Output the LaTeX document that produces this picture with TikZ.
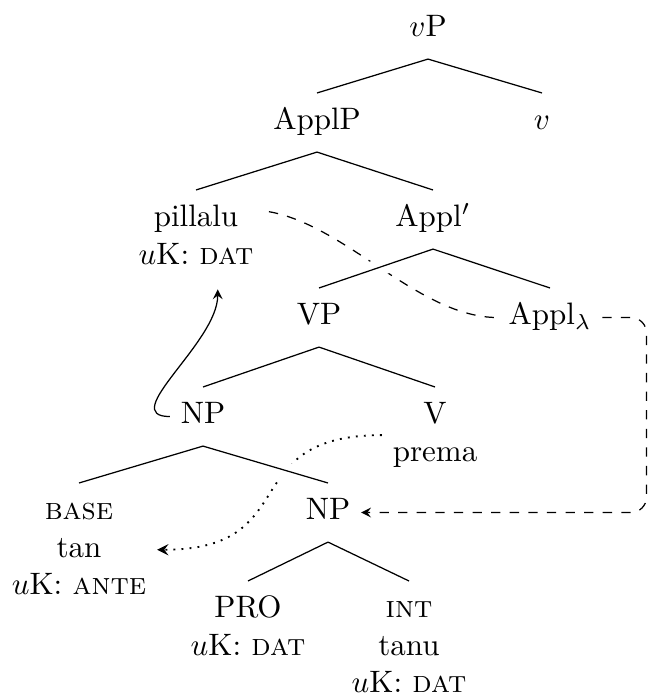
\documentclass[tikz,border=0pt]{standalone}
\usepackage{tikz}
\usetikzlibrary{arrows}
\tikzstyle{tnode} = [anchor=north, align=center]
\tikzstyle{arrow} = [->,>=stealth]
\tikzstyle{halo} = [white, line width=5.5pt]

\begin{document}
\begin{tikzpicture}[x=0.3226pt, y=0.3226pt]
\useasboundingbox (0,0) rectangle (648,698);

\node(vP)[tnode] at (428,698){$v$P\strut};
\node(applP)[tnode] at (317,605){ApplP\strut};
\node(vHead)[tnode] at (542,605){$v$\strut};
\node(pillalu)[tnode] at (196,508){pillalu\strut\\$u$K: \textsc{dat}\strut};
\node(applBar)[tnode] at (433,508){Appl$'$\strut};
\node(verbP)[tnode] at (319,410){VP\strut};
\node(applLam)[tnode] at (550,410){Appl$_\lambda$\strut};
\node(npTop)[tnode] at (203,311){NP\strut};
\node(verb)[tnode] at (435,311){V\strut\\prema\strut};
\node(base)[tnode] at (79,215){\textsc{base}\strut\\tan\strut\\$u$K: \textsc{ante}\strut};
\node(npLow)[tnode] at (328,215){NP\strut};
\node(pro)[tnode] at (248,117){PRO\strut\\$u$K: \textsc{dat}\strut};
\node(int)[tnode] at (409,117){\textsc{int}\strut\\tanu\strut\\$u$K: \textsc{dat}\strut};
\coordinate(rightEdge) at (646.5,280);

% movement arrows
\draw[arrow](npTop.west) to[out=180, in=-90] ([xshift=7pt, yshift=-1pt]pillalu.south);
\draw[dashed]([xshift=1.5pt, yshift=-7pt]pillalu.north east) to[out=-10, in=180, looseness=0.8] (applLam.west);
\draw[arrow, dashed, rounded corners=5pt](applLam.east) -| (rightEdge) |- (npLow.east);
\draw[arrow, dotted, line width=0.6pt](verb.west) to[out=180, in=0, looseness=1.5] (base.east);

% tree edges, white first so the arrows break under them
\foreach \mother/\daughter in {vP/applP, vP/vHead, applP/pillalu, applP/applBar, applBar/verbP, applBar/applLam, verbP/npTop, verbP/verb, npTop/base, npTop/npLow, npLow/pro, npLow/int}
  \draw[halo](\mother.south) -- (\daughter.north);
\foreach \mother/\daughter in {vP/applP, vP/vHead, applP/pillalu, applP/applBar, applBar/verbP, applBar/applLam, verbP/npTop, verbP/verb, npTop/base, npTop/npLow, npLow/pro, npLow/int}
  \draw(\mother.south) -- (\daughter.north);

\end{tikzpicture}
\end{document}
